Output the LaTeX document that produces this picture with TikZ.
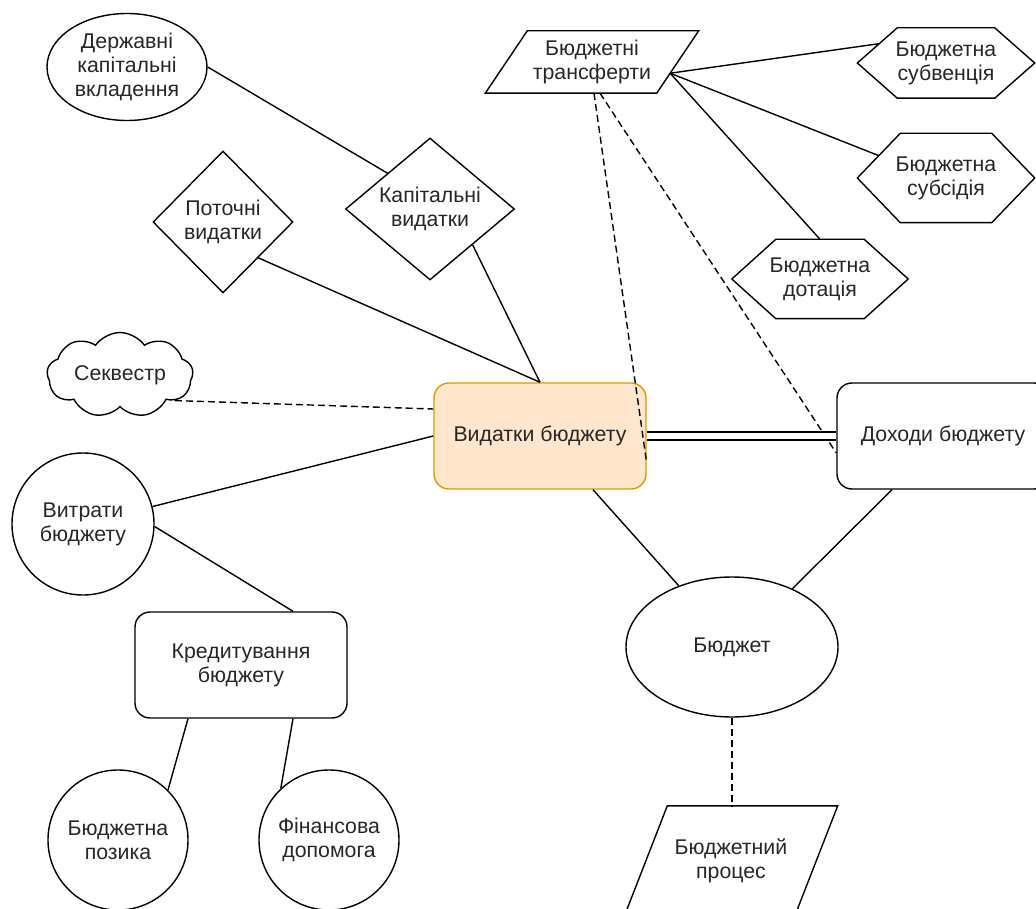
\documentclass[tikz,border=0pt]{standalone}
\usepackage{fontspec}
\setmainfont{Liberation Sans}
\usetikzlibrary{shapes.geometric,shapes.symbols,calc}
\definecolor{txt}{HTML}{262626}
\definecolor{vbfill}{HTML}{FFE6CC}
\definecolor{vbdraw}{HTML}{D79B00}
\newcommand{\dfont}{\fontsize{21.3}{24}\selectfont}
\begin{document}
\begin{tikzpicture}[x=1pt,y=-1pt,
  ln/.style={line width=1.4pt, draw=black},
  dsh/.style={ln, dash pattern=on 7pt off 4pt},
  lab/.style={font=\dfont, text=txt, align=center, inner sep=0pt},
  txtlab/.style={label={[lab]center:#1}},
  base/.style={ln, inner sep=0pt, font=\dfont, text=txt, align=center},
  rbox/.style={base, rectangle, rounded corners=15pt, minimum width=212pt, minimum height=106pt},
  circ/.style={base, circle, minimum size=#1},
  ell/.style={base, ellipse},
  diam/.style={base, diamond},
  plain/.style={inner sep=0pt, font=\dfont, text=txt, align=center, rectangle}
]
\clip (0,0) rectangle (1036,909);

% ---- nodes ----
\node[ell, minimum width=160pt, minimum height=107pt, txtlab={Державні\\капітальні\\вкладення}] (dkv) at (127,67) {};
\node[diam, minimum width=140pt, minimum height=142pt, txtlab={Поточні\\видатки}] (pot) at (223,222) {};
\node[diam, minimum width=169pt, minimum height=142pt, txtlab={Капітальні\\видатки}] (kap) at (430,209) {};

\node[plain, minimum width=213pt, minimum height=62pt] (tr) at (592,62) {Бюджетні\\трансферти};
\draw[ln] ([xshift=42pt]tr.north west) -- (tr.north east) -- ([xshift=-42pt]tr.south east) -- (tr.south west) -- cycle;

\node[plain, minimum width=177pt, minimum height=70pt] (sv) at (946,63) {Бюджетна\\субвенція};
\draw[ln] (sv.west) -- ([xshift=40pt]sv.north west) -- ([xshift=-40pt]sv.north east) -- (sv.east) -- ([xshift=-40pt]sv.south east) -- ([xshift=40pt]sv.south west) -- cycle;

\node[plain, minimum width=177pt, minimum height=89pt] (ss) at (946,178) {Бюджетна\\субсідія};
\draw[ln] (ss.west) -- ([xshift=43pt]ss.north west) -- ([xshift=-43pt]ss.north east) -- (ss.east) -- ([xshift=-43pt]ss.south east) -- ([xshift=43pt]ss.south west) -- cycle;

\node[plain, minimum width=176pt, minimum height=79pt] (dt) at (820,279) {Бюджетна\\дотація};
\draw[ln] (dt.west) -- ([xshift=44pt]dt.north west) -- ([xshift=-44pt]dt.north east) -- (dt.east) -- ([xshift=-44pt]dt.south east) -- ([xshift=44pt]dt.south west) -- cycle;

\node[base, cloud, cloud puffs=9, cloud puff arc=110, cloud ignores aspect, minimum width=146pt, minimum height=85pt, txtlab={Секвестр}] (sek) at (120,375) {};

\node[rbox, fill=vbfill, draw=vbdraw] (vb) at (540,436) {Видатки бюджету};
\node[rbox] (db) at (943,436) {Доходи бюджету};

\node[circ=142pt] (vyt) at (83,524) {Витрати\\бюджету};
\node[rbox] (kred) at (241,665) {Кредитування\\бюджету};
\node[circ=140pt] (poz) at (118,840) {Бюджетна\\позика};
\node[circ=140pt] (fin) at (329,840) {Фінансова\\допомога};

\node[ell, minimum width=212pt, minimum height=140pt] (bud) at (732,647) {Бюджет};

\node[plain, minimum width=213pt, minimum height=110pt] (bp) at (731,861) {Бюджетний\\процес};
\draw[ln] ([xshift=43pt]bp.north west) -- (bp.north east) -- ([xshift=-43pt]bp.south east) -- (bp.south west) -- cycle;

% ---- connectors ----
\draw[ln] (dkv.east) -- (kap.north west);
\draw[ln] (pot.south east) -- (vb.north);
\draw[ln] (kap.south east) -- (vb.north);
\coordinate (trR) at ($(tr.north east)!0.68!([xshift=-42pt]tr.south east)$);
\draw[ln] (trR) -- ($(sv.west)!0.55!([xshift=40pt]sv.north west)$);
\draw[ln] (trR) -- ($(ss.west)!0.5!([xshift=43pt]ss.north west)$);
\draw[ln] (trR) -- (dt.north);
\draw[dsh] ([xshift=2pt]tr.south) -- ([yshift=-27pt]vb.east);
\draw[dsh] ([xshift=8pt]tr.south) -- ([yshift=-17pt]db.west);
\draw[dsh] (sek.-25) -- ([yshift=27pt]vb.west);
\draw[ln] (vyt) -- (vb.west);
\draw[ln] (vyt.-2) -- ([xshift=52pt]kred.north);
\draw[ln] ([xshift=-53pt]kred.south) -- (poz.45);
\draw[ln] ([xshift=52pt]kred.south) -- (fin.133);
\draw[ln] ([xshift=53pt]vb.south) -- (bud.131);
\draw[ln] ([xshift=-51pt]db.south) -- (bud.44);
\draw[dsh] (bud.south) -- (bud.south |- bp.north);
\draw[ln, double, double distance=6.5pt] (vb.east) -- (db.west);
\end{tikzpicture}
\end{document}
